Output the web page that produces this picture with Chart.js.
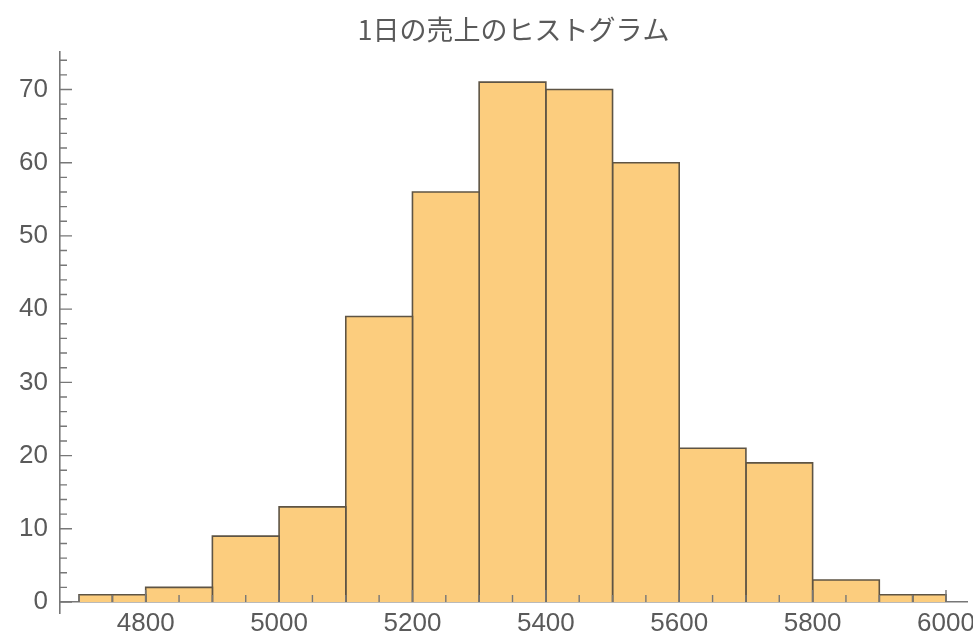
<!DOCTYPE html>
<html>
<head>
<meta charset="utf-8">
<script src="https://cdn.jsdelivr.net/npm/chart.js@4/dist/chart.umd.min.js"></script>
<style>
  html, body { margin: 0; padding: 0; background: #fff; }
  #wrap { width: 973px; height: 634px; }
</style>
</head>
<body>
<div id="wrap"><canvas id="hist" width="973" height="634"></canvas></div>
<script>
// bin edges (sales per day) and the count in each bin
var binEdges = [4700, 4750, 4800, 4900, 5000, 5100, 5200, 5300, 5400, 5500, 5600, 5700, 5800, 5900, 5950, 6000];
var counts = [1, 1, 2, 9, 13, 39, 56, 71, 70, 60, 21, 19, 3, 1, 1];

// axis ticks
var xTicks = [4800, 5000, 5200, 5400, 5600, 5800, 6000];
var yTicks = [0, 10, 20, 30, 40, 50, 60, 70];

var titleText = '1日の売上のヒストグラム';

const fillColor = '#fccd7e';
const edgeColor = '#5e5444';
const axisColor = '#777777';
const textColor = '#5a5a5a';

// each bin becomes a closed little line dataset, filled down to zero
var datasets = [];
for (var i = 0; i < counts.length; i++) {
    var a = binEdges[i], b = binEdges[i + 1], c = counts[i];
    datasets.push({
        data: [{ x: a, y: 0 }, { x: a, y: c }, { x: b, y: c }, { x: b, y: 0 }],
        fill: 'origin',
        backgroundColor: fillColor,
        borderColor: edgeColor,
        borderWidth: 1.6,
        pointRadius: 0,
        tension: 0
    });
}

// Mathematica style ticks: drawn inward, over the bars
const inwardTicks = {
    id: 'inwardTicks',
    afterDatasetsDraw: (chart) => {
        var ctx = chart.ctx;
        var xs = chart.scales.x, ys = chart.scales.y;
        var y0 = ys.getPixelForValue(0);
        var xLeft = chart.chartArea.left;
        ctx.save();
        ctx.strokeStyle = axisColor;
        ctx.lineWidth = 1.4;
        ctx.beginPath();
        for (var v = 4700; v <= 6000; v += 50) {
            var px = xs.getPixelForValue(v);
            var len = (v % 200 === 0) ? 12 : 7;
            ctx.moveTo(px, y0);
            ctx.lineTo(px, y0 - len);
        }
        for (var w = 0; w <= 74; w += 2) {
            var py = ys.getPixelForValue(w);
            var len2 = (w % 10 === 0) ? 12 : 7;
            ctx.moveTo(xLeft, py);
            ctx.lineTo(xLeft + len2, py);
        }
        ctx.stroke();
        ctx.restore();
    }
};

var myChart = new Chart(document.getElementById('hist'), {
    type: 'line',
    data: { datasets: datasets },
    options: {
        responsive: false,
        animation: false,
        layout: { padding: { top: 6, right: 6, bottom: 21, left: 0 } },
        plugins: {
            legend: { display: false },
            tooltip: { enabled: false },
            title: {
                display: true,
                text: titleText,
                fullSize: false,
                color: textColor,
                font: { family: '"Noto Sans CJK JP", sans-serif', size: 27, weight: 'normal' },
                padding: { top: 8, bottom: 5 }
            }
        },
        scales: {
            x: {
                type: 'linear',
                position: { y: 0 },
                min: 4671.5,
                max: 6031.5,
                z: 1,
                afterBuildTicks: (scale) => {
                    scale.ticks = xTicks.map(v => ({ value: v }));
                },
                afterFit: (scale) => {
                    scale.paddingLeft = 0;
                    scale.paddingRight = 0;
                    scale.height = 0;
                },
                grid: { drawOnChartArea: false, drawTicks: false },
                border: { color: axisColor, width: 1.6 },
                ticks: {
                    color: textColor,
                    padding: 6,
                    maxRotation: 0,
                    autoSkip: false,
                    callback: (v) => String(v),
                    font: { family: '"Liberation Sans", Arial, sans-serif', size: 26 }
                }
            },
            y: {
                type: 'linear',
                min: -1.5,
                max: 75.2,
                z: 1,
                afterBuildTicks: (scale) => {
                    scale.ticks = yTicks.map(v => ({ value: v }));
                },
                afterFit: (scale) => {
                    scale.width = 60;
                    scale.paddingTop = 0;
                    scale.paddingBottom = 0;
                },
                grid: { drawOnChartArea: false, drawTicks: false },
                border: { color: axisColor, width: 1.6 },
                ticks: {
                    color: textColor,
                    padding: 12,
                    callback: (v) => String(v),
                    font: { family: '"Liberation Sans", Arial, sans-serif', size: 26 }
                }
            }
        }
    },
    plugins: [inwardTicks]
});
</script>
</body>
</html>
